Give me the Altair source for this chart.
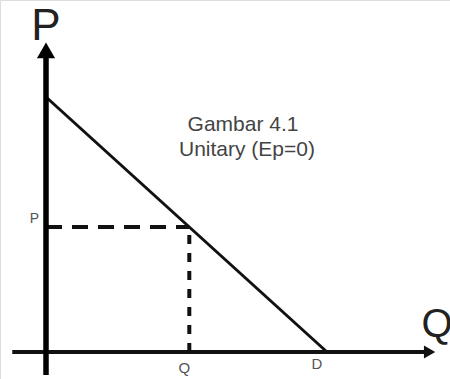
import altair as alt
import pandas as pd

# Linear demand curve: price intercept and quantity intercept (D)
curve_q = [0, 10]
curve_p = [10, 0]

# Point on the curve marked with dashed guides
point_q = 5.1
point_p = 4.9

# Caption lines
caption_lines = ["Gambar 4.1", "Unitary (Ep=0)"]

# Axis extents (quantity / price units)
q_axis_start, q_axis_end, q_arrow = -1.2, 13.62, 13.65
p_axis_start, p_axis_end, p_arrow = -0.9, 11.8, 11.83

# Plot scales
x_scale = alt.Scale(domain=[-1.637, 14.377], nice=False, zero=False)
y_scale = alt.Scale(domain=[-1.059, 13.804], nice=False, zero=False)

W, H = 450, 379

curve_df = pd.DataFrame({"q": curve_q, "p": curve_p})
point_df = pd.DataFrame({"q": [point_q], "p": [point_p], "zero": [0]})

X = lambda f: alt.X(f, type="quantitative", scale=x_scale, axis=None)
Y = lambda f: alt.Y(f, type="quantitative", scale=y_scale, axis=None)

# Demand line
demand = alt.Chart(curve_df).mark_line(color="#111", strokeWidth=3).encode(
    x=X("q"), y=Y("p")
)

# Dashed guides from the axes to the point
h_guide = alt.Chart(point_df).mark_rule(
    color="#111", strokeWidth=4, strokeDash=[16, 10]
).encode(x=X("zero"), x2="q", y=Y("p"))
v_guide = alt.Chart(point_df).mark_rule(
    color="#111", strokeWidth=4, strokeDash=[9, 9]
).encode(x=X("q"), y=Y("zero"), y2="p")

# Axes with arrow heads
axes_df = pd.DataFrame({"zero": [0]})
v_axis = alt.Chart(axes_df).transform_calculate(
    a=str(p_axis_start), b=str(p_axis_end)
).mark_rule(color="#000", strokeWidth=5.5).encode(
    x=X("zero"), y=Y("a:Q"), y2="b:Q"
)
h_axis = alt.Chart(axes_df).transform_calculate(
    a=str(q_axis_start), b=str(q_axis_end)
).mark_rule(color="#111", strokeWidth=4).encode(
    y=Y("zero"), x=X("a:Q"), x2="b:Q"
)
v_head = alt.Chart(axes_df).transform_calculate(t=str(p_arrow)).mark_point(
    shape="triangle-up", filled=True, size=330, color="#000", opacity=1
).encode(x=X("zero"), y=Y("t:Q"))
h_head = alt.Chart(axes_df).transform_calculate(t=str(q_arrow)).mark_point(
    shape="triangle-right", filled=True, size=170, color="#111", opacity=1
).encode(x=X("t:Q"), y=Y("zero"))

# Axis names
p_name = alt.Chart(axes_df).transform_calculate(t=str(p_arrow)).mark_text(
    text="P", font="Liberation Sans", fontSize=44, color="#222",
    baseline="alphabetic", dy=-10
).encode(x=X("zero"), y=Y("t:Q"))
q_name = alt.Chart(axes_df).transform_calculate(t=str(q_arrow)).mark_text(
    text="Q", font="Liberation Sans", fontSize=40, color="#222",
    align="left", baseline="alphabetic", dx=-8, dy=-15
).encode(x=X("t:Q"), y=Y("zero"))

# Point labels
lbl_font = dict(font="Liberation Sans", color="#555")
p_lbl = alt.Chart(point_df).mark_text(
    text="P", fontSize=14, align="right", baseline="alphabetic", dx=-7, dy=-4, **lbl_font
).encode(x=X("zero"), y=Y("p"))
q_lbl = alt.Chart(point_df).mark_text(
    text="Q", fontSize=15, align="center", baseline="alphabetic", dx=-5, dy=21, **lbl_font
).encode(x=X("q"), y=Y("zero"))
d_df = pd.DataFrame({"q": [curve_q[1]], "p": [curve_p[1]]})
d_lbl = alt.Chart(d_df).mark_text(
    text="D", fontSize=15, align="center", baseline="alphabetic", dx=-10, dy=17, **lbl_font
).encode(x=X("q"), y=Y("p"))

# Caption, two centred lines
cap_style = dict(font="Liberation Sans", fontSize=21, color="#444", baseline="alphabetic")
cap1 = alt.Chart(axes_df).mark_text(text=caption_lines[0], **cap_style).encode(
    x=alt.value(243), y=alt.value(131)
)
cap2 = alt.Chart(axes_df).mark_text(text=caption_lines[1], **cap_style).encode(
    x=alt.value(247), y=alt.value(156)
)

chart = alt.layer(
    h_guide, v_guide, demand, h_axis, v_axis, h_head, v_head,
    p_name, q_name, p_lbl, q_lbl, d_lbl, cap1, cap2
).properties(
    width=W, height=H, padding=0, autosize=alt.AutoSizeParams(type="none")
).configure_view(stroke=None).configure(background="white")

chart.save("out.html", embed_options={"renderer": "svg", "actions": False})
